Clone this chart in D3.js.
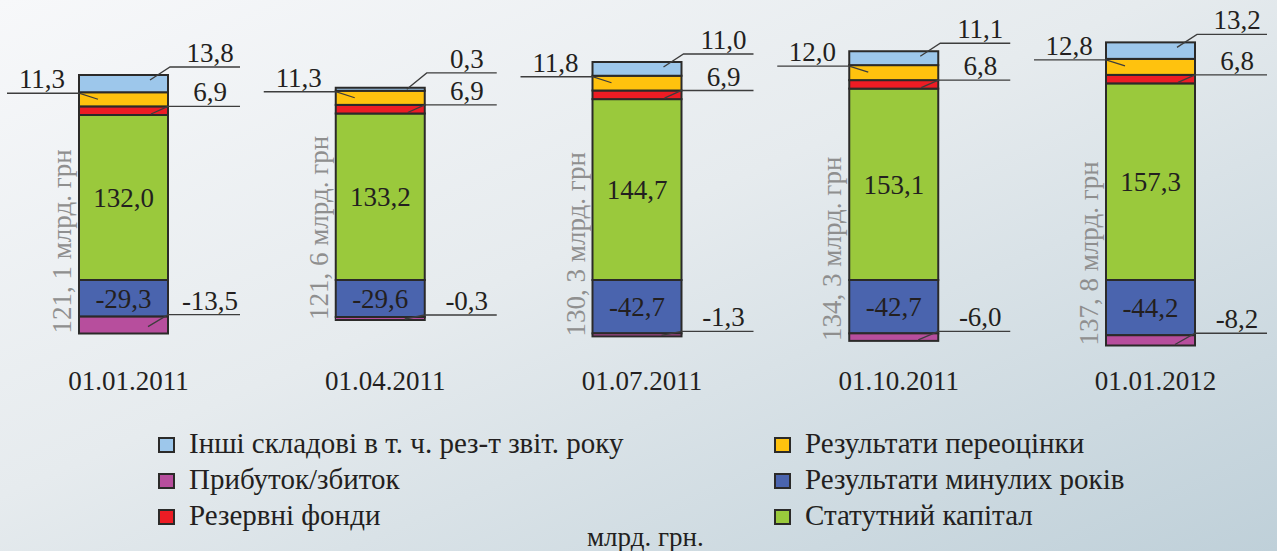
<!DOCTYPE html>
<html>
<head>
<meta charset="utf-8">
<script src="https://cdn.jsdelivr.net/npm/d3@7"></script>
<style>
  body { margin: 0; }
  svg { display: block; }
  text { font-family: "Liberation Serif", "DejaVu Serif", serif; }
</style>
</head>
<body>
<div id="chart"></div>
<script>
// values, billion UAH
const dates       = ['01.01.2011', '01.04.2011', '01.07.2011', '01.10.2011', '01.01.2012'];
const statutory   = [132.0, 133.2, 144.7, 153.1, 157.3];
const reserve     = [6.9, 6.9, 6.9, 6.8, 6.8];
const revaluation = [11.3, 11.3, 11.8, 12.0, 12.8];
const other       = [13.8, 0.3, 11.0, 11.1, 13.2];
const pastYears   = [-29.3, -29.6, -42.7, -42.7, -44.2];
const profit      = [-13.5, -0.3, -1.3, -6.0, -8.2];
const totals      = [121.1, 121.6, 130.3, 134.3, 137.8];

const keys = ['statutory', 'reserve', 'revaluation', 'other', 'pastYears', 'profit'];
const names = {
  other: 'Інші складові в т. ч. рез-т звіт. року',
  profit: 'Прибуток/збиток',
  reserve: 'Резервні фонди',
  revaluation: 'Результати переоцінки',
  pastYears: 'Результати минулих років',
  statutory: 'Статутний капітал'
};
const colors = {
  statutory: '#9ac93c',
  reserve: '#ed1c24',
  revaluation: '#ffc20e',
  other: '#9dc7eb',
  pastYears: '#4a64ae',
  profit: '#b74e9d'
};
const legendLeft = ['other', 'profit', 'reserve'];
const legendRight = ['revaluation', 'pastYears', 'statutory'];

const columns = { statutory, reserve, revaluation, other, pastYears, profit };
const rows = dates.map((d, i) => {
  const r = { date: d };
  keys.forEach(k => r[k] = columns[k][i]);
  return r;
});

const W = 1277, H = 551;
const barW = 89;
const FS = 27;
// comma decimals, plain hyphen for minus
const fmt = v => v.toFixed(1).replace('.', ',');

const svg = d3.select('#chart').append('svg')
  .attr('width', W)
  .attr('height', H);

// background
const grad = svg.append('defs').append('linearGradient')
  .attr('id', 'bg')
  .attr('x1', 0).attr('y1', 0).attr('x2', 1).attr('y2', 1);
grad.append('stop').attr('offset', '0%').attr('stop-color', '#f7f8fa');
grad.append('stop').attr('offset', '45%').attr('stop-color', '#e6ebee');
grad.append('stop').attr('offset', '100%').attr('stop-color', '#bfd0d9');
svg.append('rect').attr('width', W).attr('height', H).attr('fill', 'url(#bg)');

const x = d3.scalePoint().domain(dates).range([123.5, 1150.5]);
const y = d3.scaleLinear().domain([-60, 200]).range([355, 30]);

const layers = d3.stack().keys(keys).offset(d3.stackOffsetDiverging)(rows);

// segment geometry, thin values get a visible minimum
const segs = {};
layers.forEach(layer => {
  segs[layer.key] = layer.map((p, i) => {
    let top = y(Math.max(p[0], p[1]));
    let bottom = y(Math.min(p[0], p[1]));
    if (bottom - top < 3) {
      if (columns[layer.key][i] > 0) top = bottom - 3;
      else bottom = top + 3;
    }
    return { top, bottom, left: x(dates[i]) - barW / 2, right: x(dates[i]) + barW / 2 };
  });
});

const bars = svg.append('g');
keys.forEach(k => {
  bars.selectAll(null)
    .data(segs[k])
    .join('rect')
    .attr('x', d => d.left)
    .attr('y', d => d.top)
    .attr('width', barW)
    .attr('height', d => d.bottom - d.top)
    .attr('fill', colors[k])
    .attr('stroke', '#2b2a29')
    .attr('stroke-width', 2);
});

// value labels with leader lines
const labels = svg.append('g').attr('font-size', FS).attr('fill', '#231f20');
const leader = svg.append('g').attr('stroke', '#3d3d3d').attr('stroke-width', 1.3).attr('fill', 'none');

function drawLeader(pts, tx, ty, txt) {
  leader.append('path').attr('d', d3.line()(pts));
  labels.append('text').attr('x', tx).attr('y', ty).attr('text-anchor', 'middle').text(txt);
}

dates.forEach((d, i) => {
  const redTop = segs.reserve[i].top;

  let s = segs.other[i];
  let ly = Math.min(s.top - 8, redTop - 32);
  drawLeader([[s.right - 18, s.top + Math.min(5, (s.bottom - s.top) / 2)], [s.right + 2, ly], [s.right + 72, ly]], s.right + 42, ly - 5, fmt(other[i]));

  s = segs.reserve[i];
  ly = s.top;
  drawLeader([[s.right - 17, s.bottom - 1], [s.right, ly], [s.right + 72, ly]], s.right + 42, ly - 5, fmt(reserve[i]));

  s = segs.revaluation[i];
  ly = s.top + 1;
  drawLeader([[s.left - 72, ly], [s.left, ly], [s.left + 19, ly + 6]], s.left - 37, ly - 5, fmt(revaluation[i]));

  s = segs.profit[i];
  ly = s.top - 2;
  drawLeader([[s.right - 20, Math.min(s.top + 10, s.bottom - 1)], [s.right, ly], [s.right + 72, ly]], s.right + 42, ly - 5, fmt(profit[i]));

  ['statutory', 'pastYears'].forEach(k => {
    const g = segs[k][i];
    labels.append('text')
      .attr('x', x(d))
      .attr('y', (g.top + g.bottom) / 2)
      .attr('dy', '0.35em')
      .attr('text-anchor', 'middle')
      .text(fmt(columns[k][i]));
  });

  // rotated total
  const bottom = segs.profit[i].bottom;
  svg.append('text')
    .attr('transform', `translate(${x(d) - barW / 2 - 8},${bottom}) rotate(-90)`)
    .attr('font-size', FS)
    .attr('fill', '#8f8f8f')
    .text(`${totals[i].toFixed(1).replace('.', ', ')} млрд. грн`);
});

// dates
svg.append('g')
  .selectAll('text')
  .data(dates)
  .join('text')
  .attr('x', d => x(d) + 5)
  .attr('y', 390)
  .attr('text-anchor', 'middle')
  .attr('font-size', FS)
  .attr('fill', '#231f20')
  .text(d => d);

// legend
function legendCol(list, lx) {
  const g = svg.append('g').attr('transform', `translate(${lx},0)`);
  list.forEach((k, j) => {
    const by = 453 + j * 36;
    g.append('rect')
      .attr('x', 0).attr('y', by - 15)
      .attr('width', 15).attr('height', 14)
      .attr('fill', colors[k])
      .attr('stroke', '#2b2a29')
      .attr('stroke-width', 2);
    g.append('text')
      .attr('x', 30).attr('y', by)
      .attr('font-size', 29)
      .attr('fill', '#231f20')
      .text(names[k]);
  });
}
legendCol(legendLeft, 159);
legendCol(legendRight, 775);

svg.append('text')
  .attr('x', 587).attr('y', 546)
  .attr('font-size', FS)
  .attr('fill', '#231f20')
  .text('млрд. грн.');
</script>
</body>
</html>
